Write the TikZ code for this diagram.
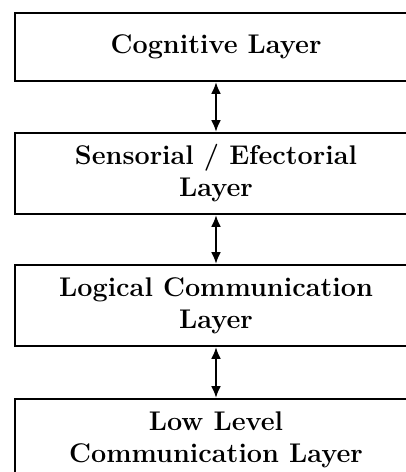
\documentclass[tikz,border=0pt]{standalone}
\usetikzlibrary{arrows.meta}
\begin{document}
\begin{tikzpicture}[x=1pt,y=-1pt,
  layerbox/.style={draw, line width=1.9pt, minimum width=402pt, inner sep=0pt, align=center,
    font=\fontsize{27}{32}\selectfont\bfseries},
  link/.style={{Latex[length=12pt,width=10pt]}-{Latex[length=12pt,width=10pt]}, line width=2.2pt}]
\useasboundingbox (0,0) rectangle (406,472);
\clip (0,0) rectangle (406,472);
\node[layerbox, minimum height=68pt] (cog) at (216,47) {Cognitive Layer};
\node[layerbox, minimum height=81pt] (sens) at (216,173.5) {Sensorial / Efectorial\\Layer};
\node[layerbox, minimum height=81pt] (logic) at (216,305.5) {Logical Communication\\Layer};
\node[layerbox, minimum height=81pt] (low) at (216,439.5) {Low Level\\Communication Layer};
\draw[link] (cog.south) -- (sens.north);
\draw[link] (sens.south) -- (logic.north);
\draw[link] (logic.south) -- (low.north);
\end{tikzpicture}
\end{document}
